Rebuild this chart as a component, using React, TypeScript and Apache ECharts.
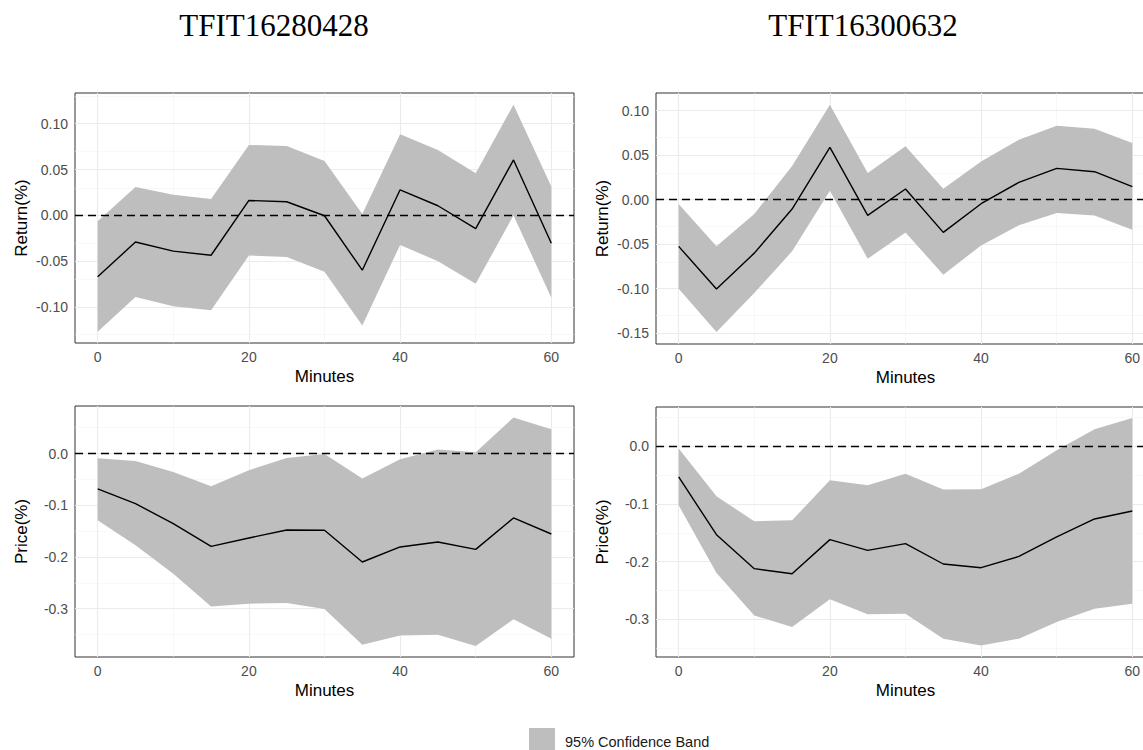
import React, { useEffect, useRef } from "react";
import * as echarts from "echarts";

// ---------- data ----------
const minutes = [0, 5, 10, 15, 20, 25, 30, 35, 40, 45, 50, 55, 60];
const xTicks = [0, 20, 40, 60];
const xMinor = [10, 30, 50];

const titles = ["TFIT16280428", "TFIT16300632"];
const legendLabel = "95% Confidence Band";

// TFIT16280428 – Return
const retAMean = [-0.067, -0.029, -0.039, -0.0435, 0.0163, 0.0149, -0.0004, -0.0598, 0.0279, 0.0105, -0.0145, 0.0605, -0.0304];
const retAUpper = [-0.0065, 0.031, 0.0225, 0.0178, 0.0768, 0.0757, 0.0594, 0.0015, 0.0884, 0.0714, 0.046, 0.1207, 0.0315];
const retALower = [-0.127, -0.089, -0.099, -0.1036, -0.0438, -0.0453, -0.0616, -0.12, -0.0322, -0.05, -0.0746, 0.0, -0.0899];

// TFIT16300632 – Return
const retBMean = [-0.0524, -0.1004, -0.06, -0.0105, 0.0588, -0.0176, 0.012, -0.0367, -0.0045, 0.0195, 0.0352, 0.0315, 0.0146];
const retBUpper = [-0.0049, -0.0524, -0.016, 0.038, 0.1067, 0.03, 0.06, 0.0124, 0.043, 0.0674, 0.083, 0.0798, 0.0637];
const retBLower = [-0.1, -0.1487, -0.1049, -0.058, 0.0101, -0.0663, -0.0367, -0.0843, -0.0513, -0.0288, -0.015, -0.0176, -0.0337];

// TFIT16280428 – Price
const priAMean = [-0.0684, -0.0968, -0.1355, -0.1794, -0.1632, -0.1477, -0.1484, -0.2097, -0.1806, -0.171, -0.1852, -0.1245, -0.1555];
const priAUpper = [-0.009, -0.0142, -0.0355, -0.0632, -0.0323, -0.0084, -0.001, -0.0484, -0.011, 0.0077, 0.0026, 0.0697, 0.0471];
const priALower = [-0.129, -0.1774, -0.2323, -0.2955, -0.2903, -0.289, -0.3006, -0.3697, -0.3516, -0.3503, -0.3723, -0.3206, -0.3581];

// TFIT16300632 – Price
const priBMean = [-0.0532, -0.1532, -0.2121, -0.2208, -0.1618, -0.1803, -0.1688, -0.204, -0.2104, -0.1908, -0.1572, -0.126, -0.1121];
const priBUpper = [-0.004, -0.0867, -0.13, -0.1283, -0.059, -0.0676, -0.0474, -0.0751, -0.0746, -0.0474, -0.0069, 0.0295, 0.0491];
const priBLower = [-0.1023, -0.2197, -0.2931, -0.3133, -0.2653, -0.2913, -0.2902, -0.3335, -0.3451, -0.3335, -0.3046, -0.2815, -0.2728];

// y-axis ticks
const retATicks = [-0.1, -0.05, 0, 0.05, 0.1];
const retAMinor = [-0.125, -0.075, -0.025, 0.025, 0.075, 0.125];
const retBTicks = [-0.15, -0.1, -0.05, 0, 0.05, 0.1];
const retBMinor = [-0.125, -0.075, -0.025, 0.025, 0.075];
const priTicks = [-0.3, -0.2, -0.1, 0];
const priMinor = [-0.35, -0.25, -0.15, -0.05, 0.05];

// ---------- styling ----------
const SANS = "'Liberation Sans', Arial, Helvetica, sans-serif";
const SERIF = "'Liberation Serif', 'Times New Roman', serif";
const BAND = "#bebebe";
const MAJOR = "#ebebeb";
const MINOR = "#f3f3f3";

type Panel = {
  grid: { left: number; top: number; width: number; height: number };
  yMin: number;
  yMax: number;
  yTicks: number[];
  yMinor: number[];
  dec: number;
  yName: string;
  mean: number[];
  upper: number[];
  lower: number[];
};

const panels: Panel[] = [
  { grid: { left: 75, top: 93, width: 499, height: 250 }, yMin: -0.1392, yMax: 0.1335, yTicks: retATicks, yMinor: retAMinor, dec: 2, yName: "Return(%)", mean: retAMean, upper: retAUpper, lower: retALower },
  { grid: { left: 656, top: 93, width: 499, height: 251 }, yMin: -0.1621, yMax: 0.1199, yTicks: retBTicks, yMinor: retBMinor, dec: 2, yName: "Return(%)", mean: retBMean, upper: retBUpper, lower: retBLower },
  { grid: { left: 75, top: 406, width: 499, height: 251 }, yMin: -0.3934, yMax: 0.092, yTicks: priTicks, yMinor: priMinor, dec: 1, yName: "Price(%)", mean: priAMean, upper: priAUpper, lower: priALower },
  { grid: { left: 656, top: 407, width: 499, height: 250 }, yMin: -0.3652, yMax: 0.0681, yTicks: priTicks, yMinor: priMinor, dec: 1, yName: "Price(%)", mean: priBMean, upper: priBUpper, lower: priBLower },
];

function buildOption() {
  const grid: any[] = [];
  const xAxis: any[] = [];
  const yAxis: any[] = [];
  const series: any[] = [];

  panels.forEach((p, i) => {
    grid.push({
      ...p.grid,
      containLabel: false,
      outerBoundsMode: "none",
      show: true,
      backgroundColor: "#ffffff",
      borderColor: "#333333",
      borderWidth: 1,
    });
    xAxis.push({
      type: "value",
      gridIndex: i,
      min: -3,
      max: 63,
      axisLine: { show: false },
      splitLine: { show: false },
      axisTick: { show: true, customValues: xTicks, length: 4, lineStyle: { color: "#333333", width: 1 } },
      axisLabel: { customValues: xTicks, color: "#4d4d4d", fontSize: 14, fontFamily: SANS, margin: 7 },
      name: "Minutes",
      nameLocation: "middle",
      nameGap: 25,
      nameTextStyle: { color: "#000", fontSize: 17, fontFamily: SANS },
    });
    yAxis.push({
      type: "value",
      gridIndex: i,
      min: p.yMin,
      max: p.yMax,
      axisLine: { show: false },
      splitLine: { show: false },
      axisTick: { show: true, customValues: p.yTicks, length: 4, lineStyle: { color: "#333333", width: 1 } },
      axisLabel: {
        customValues: p.yTicks,
        color: "#4d4d4d",
        fontSize: 14,
        fontFamily: SANS,
        margin: 7,
        formatter: (v: number) => v.toFixed(p.dec),
      },
      name: p.yName,
      nameLocation: "middle",
      nameGap: 45,
      nameTextStyle: { color: "#000", fontSize: 17, fontFamily: SANS },
    });

    const gridLines: any[] = [];
    xTicks.forEach((v) => gridLines.push({ xAxis: v, lineStyle: { color: MAJOR, width: 1.1, type: "solid" } }));
    xMinor.forEach((v) => gridLines.push({ xAxis: v, lineStyle: { color: MINOR, width: 0.6, type: "solid" } }));
    p.yTicks.forEach((v) => gridLines.push({ yAxis: v, lineStyle: { color: MAJOR, width: 1.1, type: "solid" } }));
    p.yMinor.forEach((v) => gridLines.push({ yAxis: v, lineStyle: { color: MINOR, width: 0.6, type: "solid" } }));

    // helper series carrying the panel grid lines
    series.push({
      type: "line",
      name: "grid" + i,
      xAxisIndex: i,
      yAxisIndex: i,
      data: minutes.map((m, k) => [m, p.mean[k]]),
      symbol: "none",
      showSymbol: false,
      lineStyle: { opacity: 0 },
      silent: true,
      z: 1,
      markLine: {
        silent: true,
        symbol: ["none", "none"],
        label: { show: false },
        z: 1,
        animation: false,
        data: gridLines,
      },
    });

    // confidence band as a polygon through the axis scales
    series.push({
      type: "custom",
      name: legendLabel,
      xAxisIndex: i,
      yAxisIndex: i,
      data: minutes.map((m, k) => [m, p.lower[k], p.upper[k]]),
      encode: { x: 0, y: [1, 2] },
      silent: true,
      z: 2,
      renderItem: (params: any, api: any) => {
        if (params.dataIndex !== 0) return { type: "group", children: [] };
        const pts: number[][] = [];
        for (let k = 0; k < minutes.length; k++) pts.push(api.coord([minutes[k], p.upper[k]]));
        for (let k = minutes.length - 1; k >= 0; k--) pts.push(api.coord([minutes[k], p.lower[k]]));
        return {
          type: "polygon",
          shape: { points: pts },
          style: { fill: BAND, stroke: "none" },
        };
      },
    });

    series.push({
      type: "line",
      name: "Response" + i,
      xAxisIndex: i,
      yAxisIndex: i,
      data: minutes.map((m, k) => [m, p.mean[k]]),
      symbol: "none",
      showSymbol: false,
      lineStyle: { color: "#000", width: 1.4 },
      itemStyle: { color: "#000" },
      silent: true,
      z: 4,
      markLine: {
        silent: true,
        symbol: ["none", "none"],
        label: { show: false },
        z: 3,
        animation: false,
        lineStyle: { color: "#000", width: 1.4, type: [8, 5] },
        data: [{ yAxis: 0 }],
      },
    });
  });

  const graphic: any[] = [
    {
      type: "text",
      x: 274,
      y: 25,
      silent: true,
      style: { text: titles[0], fontSize: 31, fontFamily: SERIF, fill: "#000", align: "center", verticalAlign: "middle" },
    },
    {
      type: "text",
      x: 863,
      y: 25,
      silent: true,
      style: { text: titles[1], fontSize: 31, fontFamily: SERIF, fill: "#000", align: "center", verticalAlign: "middle" },
    },
    {
      type: "rect",
      shape: { x: 529, y: 728, width: 26, height: 26 },
      silent: true,
      style: { fill: BAND },
    },
    {
      type: "text",
      x: 565,
      y: 742,
      silent: true,
      style: { text: legendLabel, fontSize: 14.5, fontFamily: SANS, fill: "#1a1a1a", align: "left", verticalAlign: "middle" },
    },
  ];

  return {
    animation: false,
    backgroundColor: "#ffffff",
    grid,
    xAxis,
    yAxis,
    series,
    graphic,
  };
}

export default function App() {
  const ref = useRef<HTMLDivElement>(null);
  useEffect(() => {
    if (!ref.current) return;
    const chart = echarts.init(ref.current, undefined, { renderer: "svg" });
    chart.setOption(buildOption() as any);
    return () => chart.dispose();
  }, []);
  return (
    <div
      ref={ref}
      style={{ position: "fixed", left: 0, top: 0, width: 1143, height: 750, background: "#fff" }}
    />
  );
}
